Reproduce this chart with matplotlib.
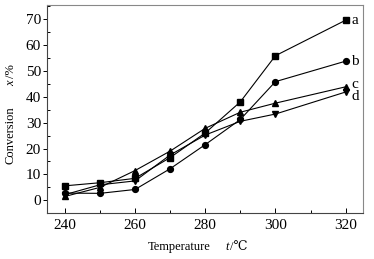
import matplotlib
matplotlib.use('Agg')
import matplotlib.pyplot as plt
from matplotlib.ticker import MultipleLocator

plt.rcParams['font.family'] = ['Liberation Serif', 'DejaVu Serif']

temps = [240, 250, 260, 270, 280, 290, 300, 320]
conv_a = [5.6, 6.8, 8.5, 16.5, 26.0, 38.0, 55.8, 69.5]
conv_b = [2.8, 2.7, 4.2, 12.2, 21.5, 31.2, 45.8, 53.7]
conv_c = [1.5, 5.0, 11.5, 19.0, 27.8, 34.0, 37.5, 43.8]
conv_d = [2.2, 6.0, 7.5, 17.5, 25.2, 30.5, 33.3, 41.8]
names = ['a', 'b', 'c', 'd']
markers = ['s', 'o', '^', 'v']

W, H = 374, 259
fig = plt.figure(figsize=(3.74, 2.59), dpi=100)
ax = fig.add_axes([0.1265, 0.1764, 0.8445, 0.8056])

series = [conv_a, conv_b, conv_c, conv_d]
label_dy = [0, 0, 1.0, -1.8]
for vals, name, mk, dy in zip(series, names, markers, label_dy):
    ax.plot(temps, vals, color='black', lw=0.8, marker=mk, ms=4.2)
    ax.annotate(name, (temps[-1], vals[-1] + dy), xytext=(4, 0),
                textcoords='offset points', va='center', ha='left', fontsize=11)

ax.set_xlim(235, 325)
ax.set_ylim(-5, 75.5)
ax.xaxis.set_major_locator(MultipleLocator(20))
ax.xaxis.set_minor_locator(MultipleLocator(10))
ax.yaxis.set_major_locator(MultipleLocator(10))
ax.yaxis.set_minor_locator(MultipleLocator(5))
ax.tick_params(axis='x', which='major', direction='in', length=3.5, width=0.7, labelsize=11, pad=4)
ax.tick_params(axis='x', which='minor', direction='in', length=2, width=0.7)
ax.tick_params(axis='y', which='major', direction='out', length=3, width=0.7, labelsize=11, pad=1.5)
ax.tick_params(axis='y', which='minor', direction='in', length=2, width=0.7)

for side in ['left', 'bottom']:
    ax.spines[side].set_color('#444444')
    ax.spines[side].set_linewidth(0.8)
for side in ['top', 'right']:
    ax.spines[side].set_color('#888888')
    ax.spines[side].set_linewidth(0.8)

# x label pieces
fig.text(148 / W, 1 - 247 / H, 'Temperature', fontsize=9, ha='left', va='center')
fig.text(225 / W, 1 - 247 / H, 't', fontsize=9, style='italic', ha='left', va='center')
fig.text(230 / W, 1 - 247 / H, '/℃', fontsize=9, ha='left', va='center')

# y label pieces
fig.text(11 / W, 1 - 135 / H, 'Conversion', fontsize=9, rotation=90, ha='center', va='center')
fig.text(11 / W, 1 - 83 / H, 'x', fontsize=9, style='italic', rotation=90, ha='center', va='center')
fig.text(11 / W, 1 - 71 / H, '/%', fontsize=9, rotation=90, ha='center', va='center')

fig.savefig('out.png', dpi=100)
